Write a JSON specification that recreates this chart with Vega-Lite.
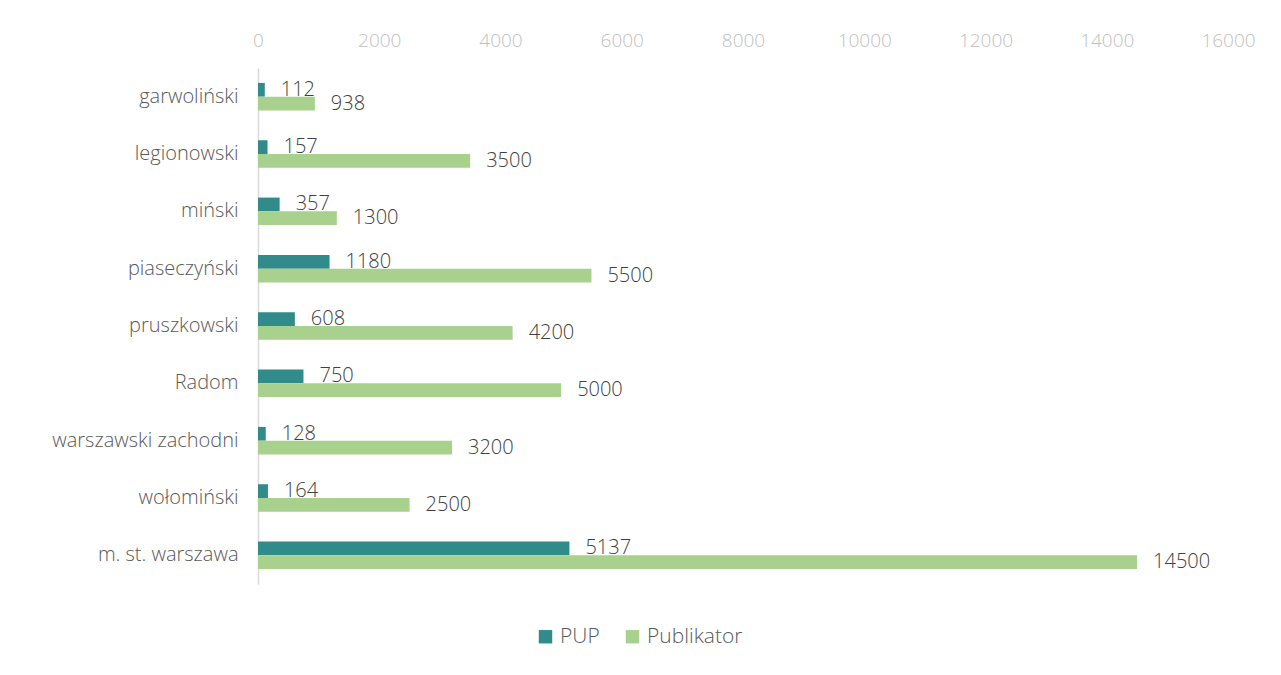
{
  "$schema": "https://vega.github.io/schema/vega-lite/v6.json",
  "width": 970,
  "height": 516,
  "autosize": {"type": "none"},
  "padding": {"left": 258, "top": 68, "right": 53, "bottom": 91},
  "background": "white",
  "config": {"view": {"stroke": null}},
  "data": {"values": [
    {"county": "garwoliński", "series": "PUP", "value": 112},
    {"county": "garwoliński", "series": "Publikator", "value": 938},
    {"county": "legionowski", "series": "PUP", "value": 157},
    {"county": "legionowski", "series": "Publikator", "value": 3500},
    {"county": "miński", "series": "PUP", "value": 357},
    {"county": "miński", "series": "Publikator", "value": 1300},
    {"county": "piaseczyński", "series": "PUP", "value": 1180},
    {"county": "piaseczyński", "series": "Publikator", "value": 5500},
    {"county": "pruszkowski", "series": "PUP", "value": 608},
    {"county": "pruszkowski", "series": "Publikator", "value": 4200},
    {"county": "Radom", "series": "PUP", "value": 750},
    {"county": "Radom", "series": "Publikator", "value": 5000},
    {"county": "warszawski zachodni", "series": "PUP", "value": 128},
    {"county": "warszawski zachodni", "series": "Publikator", "value": 3200},
    {"county": "wołomiński", "series": "PUP", "value": 164},
    {"county": "wołomiński", "series": "Publikator", "value": 2500},
    {"county": "m. st. warszawa", "series": "PUP", "value": 5137},
    {"county": "m. st. warszawa", "series": "Publikator", "value": 14500}
  ]},
  "encoding": {
    "y": {
      "field": "county", "type": "nominal", "sort": null, "title": null,
      "scale": {"paddingInner": 0.52, "paddingOuter": 0.26},
      "axis": {"domainColor": "#D9D9D9", "domainWidth": 1.5, "ticks": false, "labelPadding": 20, "labelLimit": 300, "labelFontSize": 20, "labelColor": "#595959", "labelFont": "Open Sans", "labelFontWeight": 300}
    },
    "yOffset": {"field": "series", "type": "nominal", "sort": ["PUP", "Publikator"]},
    "x": {
      "field": "value", "type": "quantitative", "title": null,
      "scale": {"domain": [0, 16000], "nice": false},
      "axis": {"orient": "top", "values": [0, 2000, 4000, 6000, 8000, 10000, 12000, 14000, 16000], "format": "d", "grid": false, "domain": false, "ticks": false, "labelPadding": 18, "labelFontSize": 19, "labelColor": "#BFBFBF", "labelFont": "Open Sans", "labelFontWeight": 300, "labelFlush": false}
    }
  },
  "layer": [
    {
      "mark": {"type": "bar"},
      "encoding": {
        "color": {
          "field": "series", "type": "nominal", "title": null,
          "scale": {"domain": ["PUP", "Publikator"], "range": ["#318B8A", "#A9D18E"]},
          "legend": {"orient": "none", "legendX": 277, "legendY": 558, "direction": "horizontal", "symbolType": "square", "symbolSize": 180, "symbolStrokeWidth": 0, "labelFontSize": 21, "labelColor": "#595959", "labelFont": "Open Sans", "labelFontWeight": 300, "columnPadding": 22, "labelOffset": 4}
        }
      }
    },
    {
      "mark": {"type": "text", "align": "left", "baseline": "middle", "dx": 16, "fontSize": 20, "color": "#404040", "font": "Open Sans", "fontWeight": 300},
      "encoding": {"text": {"field": "value", "type": "quantitative", "format": "d"}}
    }
  ]
}
